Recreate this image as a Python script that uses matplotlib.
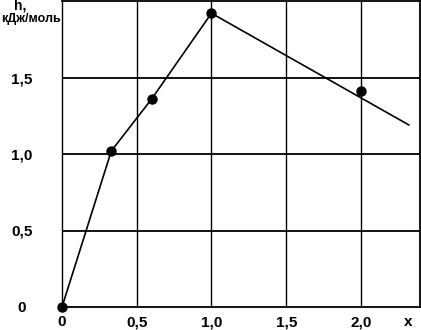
import matplotlib
matplotlib.use("Agg")
import matplotlib.pyplot as plt

# curve vertices
line_x = [0.0, 0.33, 0.6, 1.0, 2.32]
line_h = [0.0, 1.02, 1.36, 1.92, 1.19]

# measured points
pt_x = [0.0, 0.33, 0.6, 1.0, 2.0]
pt_h = [0.0, 1.02, 1.36, 1.92, 1.41]

xticks = [0, 0.5, 1.0, 1.5, 2.0]
xlabels = ["0", "0,5", "1,0", "1,5", "2,0"]
yticks = [0, 0.5, 1.0, 1.5]
ylabels = ["0", "0,5", "1,0", "1,5"]

plt.rcParams["font.family"] = ["Liberation Sans", "DejaVu Sans"]
plt.rcParams["font.weight"] = "bold"

fig = plt.figure(figsize=(4.21, 3.30), dpi=100)
ax = fig.add_axes([62 / 421, 23 / 330, 358 / 421, 306 / 330])

ax.set_xlim(0, 2.395)
ax.set_ylim(0, 2.0)

for x in xticks[1:]:
    ax.axvline(x, color="black", lw=1.0, zorder=1)
for y in yticks[1:]:
    ax.axhline(y, color="black", lw=1.3, zorder=1)

ax.plot(line_x, line_h, color="black", lw=1.2, zorder=2, clip_on=False)
ax.plot(pt_x, pt_h, "o", color="black", ms=6.5, zorder=3, clip_on=False)

ax.set_xticks(xticks)
ax.set_xticklabels(xlabels, fontsize=11, fontweight="bold")
ax.set_yticks(yticks)
ax.set_yticklabels(ylabels, fontsize=11, fontweight="bold", ha="center")
ax.tick_params(axis="x", length=0, pad=6)
ax.tick_params(axis="y", length=0, pad=29)

for s in ax.spines.values():
    s.set_linewidth(1.3)
ax.spines["left"].set_linewidth(1.0)

fig.text(408 / 421, 1 - 322 / 330, "x", fontsize=11, fontweight="bold",
         ha="center", va="center")
fig.text(20 / 421, 1 - 6 / 330, "h,", fontsize=10, fontweight="bold",
         ha="center", va="center")
fig.text(31 / 421, 1 - 19 / 330, "кДж/моль", fontsize=9, fontweight="bold",
         ha="center", va="center")

fig.savefig("out.png", dpi=100)
